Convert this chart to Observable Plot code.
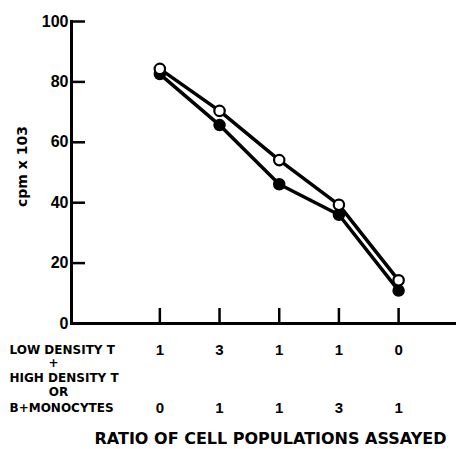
<!DOCTYPE html>
<html>
<head>
<meta charset="utf-8">
<script src="https://cdn.jsdelivr.net/npm/d3@7"></script>
<script src="https://cdn.jsdelivr.net/npm/@observablehq/plot@0.6"></script>
<style>
  html, body { margin: 0; padding: 0; background: #fff; }
</style>
</head>
<body>
<div id="chart"></div>
<script>
// ---- data ----
const positions = [1, 2, 3, 4, 5];
const lowDensityT = [1, 3, 1, 1, 0];
const highDensityOrB = [0, 1, 1, 3, 1];
const openSeries = [84.3, 70.4, 54.1, 39.3, 14.3];
const filledSeries = [82.6, 65.7, 46.1, 36.0, 10.9];
const yTicks = [0, 20, 40, 60, 80, 100];
const yLabel = "cpm x 103";
const rowLabels = ["LOW DENSITY T", "+", "HIGH DENSITY T", "OR", "B+MONOCYTES"];
const xTitle = "RATIO OF CELL POPULATIONS ASSAYED";

const openData = positions.map((p, i) => ({pos: p, value: openSeries[i]}));
const filledData = positions.map((p, i) => ({pos: p, value: filledSeries[i]}));
const table = positions.map((p, i) => ({pos: p, low: lowDensityT[i], high: highDensityOrB[i]}));

const numFont = "'Liberation Sans', Arial, sans-serif";
const txtFont = "'DejaVu Sans', sans-serif";

const chart = Plot.plot({
  width: 456,
  height: 449,
  marginLeft: 71,
  marginRight: 0,
  marginTop: 21,
  marginBottom: 126,
  style: {fontFamily: numFont, fontWeight: "bold", color: "black", background: "white"},
  x: {domain: [-0.48, 5.97], axis: null},
  y: {domain: [0, 100], axis: null},
  marks: [
    Plot.frame({anchor: "left", strokeWidth: 3, stroke: "black"}),
    Plot.frame({anchor: "bottom", strokeWidth: 3, stroke: "black"}),
    Plot.axisY({ticks: yTicks, tickSize: -14, tickPadding: 17, strokeWidth: 2.5, fontSize: 16, fontWeight: "bold", label: null}),
    Plot.axisX({ticks: positions, tickSize: -15, strokeWidth: 2.5, tickFormat: () => "", label: null}),
    Plot.text([yLabel], {frameAnchor: "left", textAnchor: "middle", lineAnchor: "middle", rotate: -90, dx: -49, dy: -6, fontSize: 14, fontWeight: "bold", fontFamily: txtFont}),
    // series
    Plot.line(filledData, {x: "pos", y: "value", stroke: "black", strokeWidth: 3.5}),
    Plot.dot(filledData, {x: "pos", y: "value", r: 5.5, fill: "black", stroke: "black"}),
    Plot.line(openData, {x: "pos", y: "value", stroke: "black", strokeWidth: 3.5}),
    Plot.dot(openData, {x: "pos", y: "value", r: 5.2, fill: "white", stroke: "black", strokeWidth: 2.2}),
    // table below axis
    Plot.text(table, {x: "pos", text: "low", frameAnchor: "bottom", lineAnchor: "middle", dy: 27, fontSize: 15, fontWeight: "bold"}),
    Plot.text(table, {x: "pos", text: "high", frameAnchor: "bottom", lineAnchor: "middle", dy: 85, fontSize: 15, fontWeight: "bold"}),
    Plot.text([rowLabels[0]], {frameAnchor: "bottom-left", textAnchor: "start", lineAnchor: "middle", dx: -62, dy: 27, fontSize: 12, fontWeight: "bold", fontFamily: txtFont}),
    Plot.text([rowLabels[1]], {frameAnchor: "bottom-left", textAnchor: "middle", lineAnchor: "middle", dx: -18, dy: 40, fontSize: 12, fontWeight: "bold", fontFamily: txtFont}),
    Plot.text([rowLabels[2]], {frameAnchor: "bottom-left", textAnchor: "start", lineAnchor: "middle", dx: -62, dy: 55, fontSize: 12, fontWeight: "bold", fontFamily: txtFont}),
    Plot.text([rowLabels[3]], {frameAnchor: "bottom-left", textAnchor: "middle", lineAnchor: "middle", dx: -13, dy: 69, fontSize: 12, fontWeight: "bold", fontFamily: txtFont}),
    Plot.text([rowLabels[4]], {frameAnchor: "bottom-left", textAnchor: "start", lineAnchor: "middle", dx: -62, dy: 85, fontSize: 12, fontWeight: "bold", fontFamily: txtFont}),
    Plot.text([xTitle], {frameAnchor: "bottom", textAnchor: "middle", lineAnchor: "middle", dx: 6.5, dy: 115, fontSize: 16, fontWeight: "bold", fontFamily: txtFont})
  ]
});
document.getElementById("chart").appendChild(chart);
</script>
</body>
</html>
